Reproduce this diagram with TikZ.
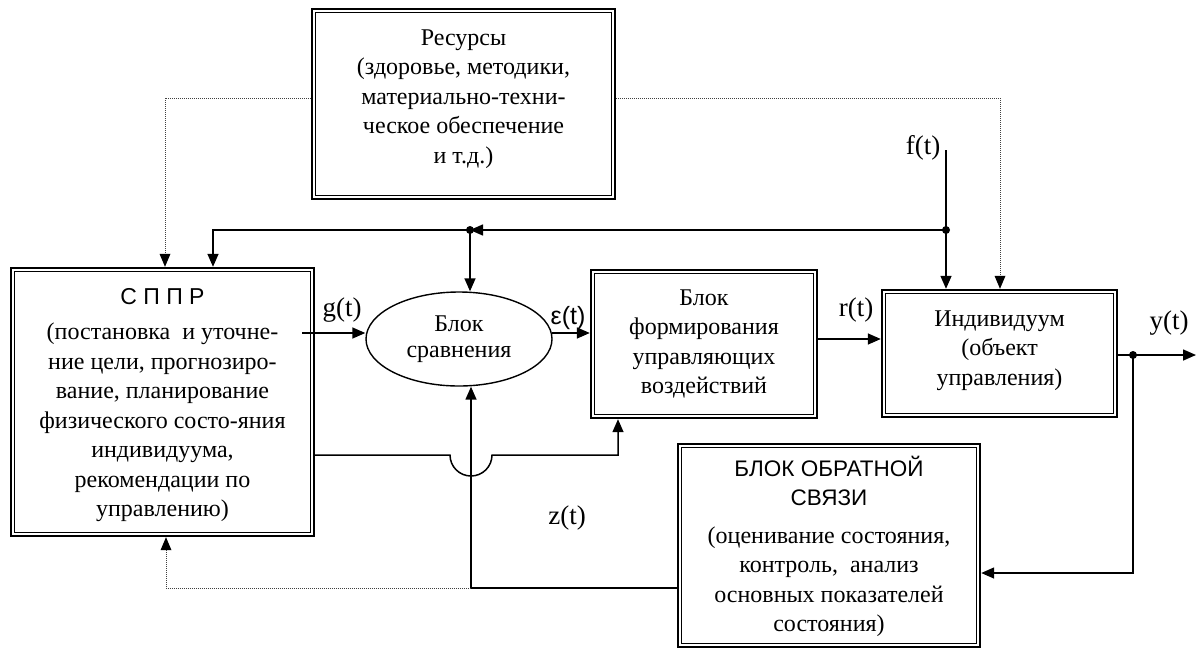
\documentclass[tikz,border=0pt]{standalone}
\usepackage{fontspec}
\setmainfont{Liberation Serif}
\setsansfont{Liberation Sans}
\usetikzlibrary{arrows.meta,shapes.geometric,calc}
\begin{document}
\begin{tikzpicture}[x=1pt,y=-1pt,
  every node/.style={inner sep=0pt},
  boxnode/.style={align=center, font=\fontsize{24}{29.5}\selectfont},
  ln/.style={line width=1.5pt},
  dotln/.style={line width=1pt, densely dotted, black!75},
  arr/.style={-{Triangle[length=13pt,width=11pt]}},
  lbl/.style={font=\fontsize{27}{30}\selectfont}
]
\useasboundingbox (0,0) rectangle (1199,651);

% boxes (frames)
\node[minimum width=305pt, minimum height=192pt] (res) at (463.5,104) {};
\node[minimum width=305pt, minimum height=270pt] (sppr) at (162.5,402) {};
\node[minimum width=228pt, minimum height=150pt] (form) at (704,344) {};
\node[minimum width=237pt, minimum height=129pt] (indiv) at (999.5,353.5) {};
\node[minimum width=304pt, minimum height=205pt] (fb) at (829,545.5) {};

% box texts
\node[boxnode] (restxt) at ([yshift=5pt]res.center)
  {Ресурсы\\(здоровье, методики,\\материально-техни-\\ческое обеспечение\\и т.д.)};
\node[boxnode] (spprtxt) at ([yshift=-3pt]sppr.center)
  {\textsf{\fontsize{23}{28}\selectfont С П П Р}\\[6pt](постановка\ \ и уточне-\\ние цели, прогнозиро-\\вание, планирование\\физического состо-яния\\индивидуума,\\рекомендации по\\управлению)};
\node[boxnode] (formtxt) at (form.center)
  {Блок\\формирования\\управляющих\\воздействий};
\node[boxnode] (indivtxt) at ([yshift=3pt]indiv.center)
  {Индивидуум\\(объект\\управления)};
\node[boxnode] (fbtxt) at ([yshift=-1pt]fb.center)
  {\textsf{\fontsize{22.5}{28}\selectfont БЛОК ОБРАТНОЙ}\\\textsf{\fontsize{22.5}{28}\selectfont СВЯЗИ}\\[8pt](оценивание состояния,\\контроль,\ \ анализ\\основных показателей\\состояния)};
\node[draw, ellipse, line width=1.4pt, minimum width=186pt, minimum height=94pt,
  align=center, font=\fontsize{24}{25.5}\selectfont] (cmp) at (459,339) {Блок\\сравнения};

\foreach \n in {res,sppr,form,indiv,fb}{
  \draw[line width=2.4pt] ([shift={(1.2pt,1.2pt)}]\n.south west) rectangle ([shift={(-1.2pt,-1.2pt)}]\n.north east);
  \draw[line width=1.1pt] ([shift={(5pt,5pt)}]\n.south west) rectangle ([shift={(-5pt,-5pt)}]\n.north east);
}

% helper coordinates
\coordinate (dl) at (165,98);
\coordinate (dr) at (1000,98);
\coordinate (ftop) at (946,150);
\coordinate (fdot) at (946,230);
\coordinate (cdot) at (470,230);
\coordinate (sc) at (213,230);
\coordinate (gs) at (302,333);
\coordinate (es) at (552,333);
\coordinate (rs) at (818,339);
\coordinate (ydot) at (1133,355);
\coordinate (yend) at (1196,355);
\coordinate (fbc) at (1133,573);
\coordinate (zc) at (471,588);
\coordinate (dbl) at (166,588);
\coordinate (la) at (450,455);
\coordinate (lc) at (618,455);

% dotted resource links
\draw[dotln] (dl -| res.west) -- (dl) -- ([yshift=6pt]dl |- sppr.north);
\fill[black] (dl |- sppr.north) -- ++(-5.5pt,13pt) -- ++(11pt,0pt) -- cycle;
\draw[dotln] (dr -| res.east) -- (dr) -- ([yshift=6pt]dr |- indiv.north);
\fill[black] (dr |- indiv.north) -- ++(-5.5pt,13pt) -- ++(11pt,0pt) -- cycle;

% f(t)
\draw[ln,arr] (ftop) -- (ftop |- indiv.north);
\draw[ln,arr] (fdot) -- (cdot);
\draw[ln,arr] (cdot) -- (sc) -- (sc |- sppr.north);
\draw[ln,arr] (cdot) -- (cdot |- cmp.north);
\fill (fdot) circle[radius=4pt];
\fill (cdot) circle[radius=4pt];

% main chain
\draw[ln,arr] (gs) -- (gs -| cmp.west);
\draw[ln,arr] (es) -- (es -| form.west);
\draw[ln,arr] (rs) -- (rs -| indiv.west);
\draw[ln,arr] (indiv.east |- ydot) -- (yend);
\fill (ydot) circle[radius=4pt];

% feedback
\draw[ln,arr] (ydot) -- (fbc) -- (fbc -| fb.east);
\draw[ln,arr] (fb.west |- zc) -- (zc) -- (zc |- cmp.south);
\draw[dotln] (zc) -- (dbl) -- ([yshift=-6pt]dbl |- sppr.south);
\fill[black] (dbl |- sppr.south) -- ++(-5.5pt,-13pt) -- ++(11pt,0pt) -- cycle;

% SPPR to forming block with jump
\draw[ln,arr] (sppr.east |- la) -- (la) arc[start angle=180,end angle=360,radius=21pt] -- (lc) -- (lc |- form.south);

% labels
\node[lbl] (gl) at (342,310) {g(t)};
\node[lbl, font=\fontsize{25}{30}\sffamily] (el) at (568,318) {ε(t)};
\node[lbl] (rl) at (856,310) {r(t)};
\node[lbl] (fl) at (923,148) {f(t)};
\node[lbl] (yl) at (1169,323) {y(t)};
\node[lbl] (zl) at (567,518) {z(t)};
\end{tikzpicture}
\end{document}
